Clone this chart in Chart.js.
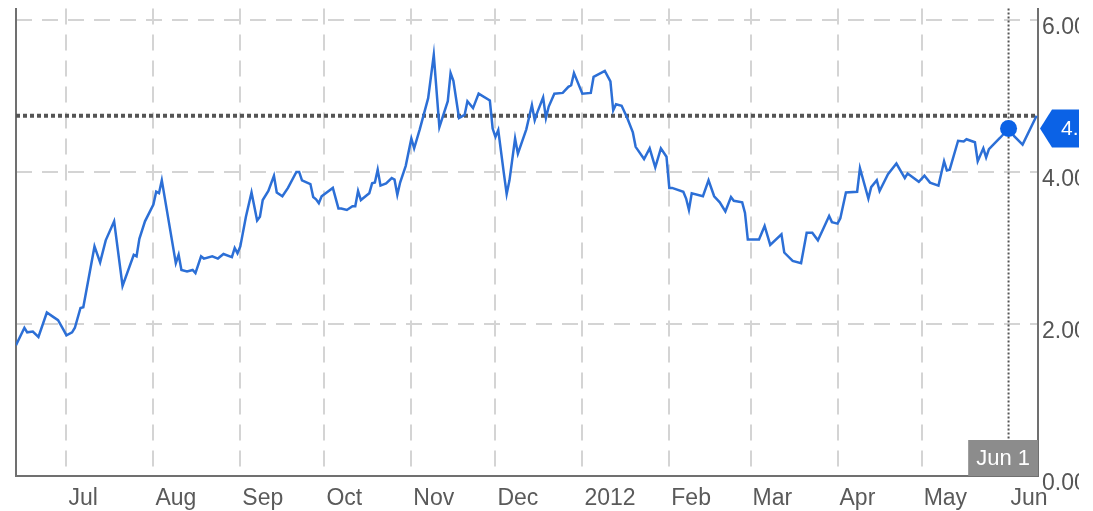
<!DOCTYPE html>
<html>
<head>
<meta charset="utf-8">
<title>Price</title>
<script src="https://cdn.jsdelivr.net/npm/chart.js@4.4.1/dist/chart.umd.min.js"></script>
<style>
  html, body { margin: 0; padding: 0; background: #fff; }
  #wrap { width: 1079px; height: 511px; overflow: hidden; }
</style>
</head>
<body>
<div id="wrap">
  <canvas id="priceChart" width="1098" height="511"></canvas>
</div>
<script>
// days since 1 Jul 2011, with the closing price on each day
const days = [
  -18, -15, -14, -12, -10, -7, -5, -3, -1,
  0, 2, 3, 5, 6, 10, 12, 14, 17, 20, 24, 25, 26, 28,
  31, 32, 33, 34, 39, 40, 41, 43, 45, 46, 48, 49, 52, 54, 56, 59, 60, 61,
  62, 64, 66, 68, 69, 70, 72, 74, 75, 77, 79, 82, 83, 84, 87, 88, 89, 90, 91,
  95, 97, 98, 100, 102, 103, 104, 105, 108, 109, 110, 111, 112, 114, 116, 117, 118, 119, 121,
  123, 124, 126, 129, 131, 133, 136, 137, 138, 140, 142, 143, 145, 147, 151, 152,
  153, 154, 156, 157, 158, 160, 161, 164, 166, 167, 168, 170, 171, 172, 174, 177, 179, 180, 181,
  184, 187, 188, 192, 194, 195, 196, 198, 200, 202, 203, 206, 208, 210, 212, 214,
  215, 216, 220, 221, 222, 223, 227, 229, 231, 233, 235, 237, 238, 241, 242, 243,
  245, 247, 249, 251, 255, 256, 259, 262, 264, 266, 268, 270, 272, 273,
  275, 276, 278, 282, 283, 286, 287, 289, 290, 293, 296, 299, 300, 304,
  306, 308, 311, 313, 314, 315, 318, 320, 321, 324, 325, 327, 328, 329, 333,
  336, 338, 341, 346
];
const prices = [
  1.72, 1.95, 1.89, 1.90, 1.83, 2.15, 2.10, 2.05, 1.92,
  1.85, 1.89, 1.95, 2.21, 2.22, 3.02, 2.81, 3.10, 3.35, 2.50, 2.91, 2.89, 3.12, 3.35,
  3.57, 3.74, 3.72, 3.89, 2.80, 2.91, 2.71, 2.69, 2.71, 2.67, 2.89, 2.86, 2.89, 2.86, 2.92, 2.88, 3.00, 2.93,
  3.02, 3.41, 3.73, 3.36, 3.41, 3.63, 3.75, 3.95, 3.73, 3.68, 3.79, 4.00, 4.00, 3.89, 3.84, 3.67, 3.64, 3.59, 3.68,
  3.79, 3.52, 3.52, 3.50, 3.55, 3.55, 3.75, 3.63, 3.72, 3.85, 3.86, 4.03, 3.82, 3.85, 3.92, 3.90, 3.70, 3.86, 4.08,
  4.44, 4.31, 4.56, 4.97, 5.54, 4.59, 4.93, 5.30, 5.20, 4.71, 4.75, 4.93, 4.84, 5.03, 4.94, 4.57,
  4.46, 4.55, 3.98, 3.71, 3.89, 4.44, 4.24, 4.56, 4.88, 4.68, 4.79, 4.98, 4.71, 4.86, 5.03, 5.04, 5.12, 5.14, 5.30,
  5.03, 5.04, 5.25, 5.33, 5.19, 4.81, 4.89, 4.87, 4.71, 4.52, 4.33, 4.17, 4.31, 4.06, 4.31, 4.20,
  3.79, 3.79, 3.74, 3.65, 3.50, 3.72, 3.68, 3.89, 3.68, 3.60, 3.48, 3.67, 3.62, 3.60, 3.46, 3.11,
  3.11, 3.11, 3.29, 3.04, 3.18, 2.94, 2.83, 2.80, 3.20, 3.20, 3.10, 3.26, 3.42, 3.34,
  3.32, 3.39, 3.73, 3.74, 4.05, 3.65, 3.80, 3.89, 3.75, 3.97, 4.11, 3.92, 3.98, 3.87,
  3.95, 3.86, 3.82, 4.14, 4.02, 4.03, 4.41, 4.40, 4.43, 4.39, 4.14, 4.31, 4.19, 4.30, 4.45,
  4.57, 4.47, 4.36, 4.74
];

// month starts on the x axis
const monthTicks = [0, 31, 62, 92, 123, 153, 184, 215, 244, 275, 305, 336];
const monthLabels = ["Jul", "Aug", "Sep", "Oct", "Nov", "Dec", "2012", "Feb", "Mar", "Apr", "May", "Jun"];
const priceTicks = [0, 2, 4, 6];

// highlighted day
const hoverDay = 336;
const hoverLabel = "Jun 1";
const hoverValue = prices[days.indexOf(hoverDay)];
const lastValue = prices[prices.length - 1];

Chart.defaults.font.family = "'Liberation Sans', Arial, sans-serif";

const markers = {
  id: "markers",
  beforeDatasetsDraw(chart) {
    const { ctx, chartArea, scales } = chart;
    const ly = scales.y.getPixelForValue(lastValue);
    const hx = scales.x.getPixelForValue(hoverDay);
    ctx.save();
    // last price line
    ctx.strokeStyle = "#555";
    ctx.lineWidth = 4;
    ctx.setLineDash([4, 3]);
    ctx.beginPath();
    ctx.moveTo(chartArea.left, ly);
    ctx.lineTo(chartArea.right, ly);
    ctx.stroke();
    // crosshair
    ctx.lineWidth = 2;
    ctx.setLineDash([2, 2]);
    ctx.beginPath();
    ctx.moveTo(hx, chartArea.top);
    ctx.lineTo(hx, chartArea.bottom);
    ctx.stroke();
    ctx.restore();
  },
  afterDatasetsDraw(chart) {
    const { ctx, chartArea, scales } = chart;
    const hx = scales.x.getPixelForValue(hoverDay);
    const hy = scales.y.getPixelForValue(hoverValue);
    ctx.save();
    // date box on the x axis
    ctx.font = "22px 'Liberation Sans', Arial, sans-serif";
    const w = ctx.measureText(hoverLabel).width + 16;
    const h = 36;
    const bx = Math.min(hx - w / 2, chartArea.right - w);
    const by = chartArea.bottom - h;
    ctx.fillStyle = "#8c8c8c";
    ctx.fillRect(bx, by, w, h);
    ctx.fillStyle = "#fff";
    ctx.textAlign = "center";
    ctx.textBaseline = "middle";
    ctx.fillText(hoverLabel, bx + w / 2, by + h / 2 + 1);
    // value tag on the price axis
    const tx = chartArea.right + 2;
    ctx.fillStyle = "#0b62e6";
    ctx.beginPath();
    ctx.moveTo(tx, hy);
    ctx.lineTo(tx + 12, hy - 19);
    ctx.lineTo(tx + 80, hy - 19);
    ctx.lineTo(tx + 80, hy + 19);
    ctx.lineTo(tx + 12, hy + 19);
    ctx.closePath();
    ctx.fill();
    ctx.fillStyle = "#fff";
    ctx.font = "21px 'Liberation Sans', Arial, sans-serif";
    ctx.textAlign = "left";
    ctx.fillText(hoverValue.toFixed(2), tx + 21, hy + 1);
    ctx.restore();
  }
};

new Chart(document.getElementById("priceChart"), {
  type: "line",
  data: {
    datasets: [
      {
        data: [{ x: hoverDay, y: hoverValue }],
        pointRadius: 8.5,
        pointBackgroundColor: "#0b62e6",
        pointBorderWidth: 0,
        showLine: false,
        order: 0
      },
      {
        data: days.map((d, i) => ({ x: d, y: prices[i] })),
        borderColor: "#2c6fd6",
        borderWidth: 2.5,
        pointRadius: 0,
        tension: 0,
        order: 1
      }
    ]
  },
  options: {
    responsive: false,
    animation: false,
    layout: { padding: { top: 8, left: 16, right: 0, bottom: 0 } },
    plugins: { legend: { display: false }, tooltip: { enabled: false } },
    scales: {
      x: {
        type: "linear",
        position: "bottom",
        min: -18,
        max: 346.5,
        afterBuildTicks: axis => { axis.ticks = monthTicks.map(v => ({ value: v })); },
        afterFit: axis => {
          axis.height = 35;
          axis.paddingLeft = 0;
          axis.paddingRight = 0;
        },
        ticks: {
          autoSkip: false,
          maxRotation: 0,
          align: "start",
          labelOffset: 2,
          padding: 9,
          color: "#5a5a5a",
          font: { size: 23 },
          callback: v => monthLabels[monthTicks.indexOf(v)]
        },
        grid: {
          color: c => (c.tick && c.tick.value === hoverDay ? "transparent" : "#d4d4d4"),
          lineWidth: 2,
          drawTicks: false
        },
        border: { color: "#707070", width: 2, dash: [16, 10] }
      },
      y: {
        type: "linear",
        position: "right",
        min: 0,
        max: 6.15,
        afterBuildTicks: axis => { axis.ticks = priceTicks.map(v => ({ value: v })); },
        afterFit: axis => {
          axis.width = 60;
          axis.paddingTop = 0;
          axis.paddingBottom = 0;
        },
        ticks: {
          padding: 4,
          labelOffset: 8,
          color: "#555",
          font: { size: 23 },
          callback: v => v.toFixed(2)
        },
        grid: {
          color: c => (c.tick && c.tick.value === 0 ? "transparent" : "#d4d4d4"),
          lineWidth: 2,
          drawTicks: false
        },
        border: { color: "#707070", width: 2, dash: [16, 10] }
      },
      yLeft: {
        type: "linear",
        position: "left",
        afterFit: axis => {
          axis.width = 0;
          axis.paddingTop = 0;
          axis.paddingBottom = 0;
        },
        ticks: { display: false },
        grid: { display: false, drawTicks: false },
        border: { color: "#707070", width: 2 }
      }
    }
  },
  plugins: [markers]
});
</script>
</body>
</html>
